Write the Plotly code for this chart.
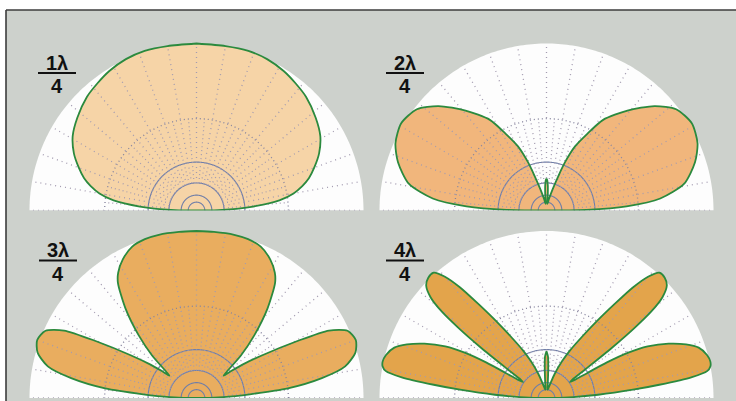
import numpy as np
import plotly.graph_objects as go

# ---- data -----------------------------------------------------------------
# elevation angle above the horizon (deg) and relative radius on the
# log-periodic scale (1 = outer ring); patterns are symmetric left/right
EL_1 = [0, 2, 4, 7, 10, 13, 16, 20, 25, 31, 38, 46, 52, 58, 65, 72, 80, 90]
R_1 = [0, 0.20, 0.34, 0.50, 0.59, 0.65, 0.70, 0.75, 0.81, 0.865, 0.905, 0.945,
       0.965, 0.985, 1.0, 1.005, 1.0, 1.0]

EL_2 = [0, 1, 3, 6, 11, 18, 24, 31, 38, 44, 51, 58, 62, 66, 69, 71, 74, 78,
        82, 84, 85.5, 87, 88.5, 90]
R_2 = [0, 0.24, 0.48, 0.685, 0.84, 0.935, 0.99, 1.015, 0.985, 0.90, 0.77,
       0.64, 0.52, 0.42, 0.31, 0.22, 0.13, 0.07, 0.04, 0.05, 0.10, 0.15,
       0.18, 0.19]

EL_3 = [0, 2, 4, 6, 9, 12, 16, 20, 24, 27, 29.5, 33, 36, 38, 39.5, 41, 43.8,
        47.3, 51.6, 55.7, 58, 62, 67, 72, 77, 84, 90]
R_3 = [0, 0.16, 0.32, 0.55, 0.76, 0.91, 0.99, 1.015, 0.99, 0.89, 0.69, 0.47,
       0.34, 0.26, 0.21, 0.24, 0.37, 0.51, 0.685, 0.835, 0.885, 0.94, 0.985,
       1.0, 1.003, 1.0, 1.0]

EL_4 = [0, 2, 3.6, 5.5, 6.7, 8.2, 9.5, 11, 12.6, 15, 18.3, 21, 24, 27, 29,
        30.5, 31.5, 32.5, 34, 35.5, 36.5, 37.5, 38.5, 39.5, 41, 43, 45.5, 48,
        50, 52, 54, 57, 60, 63.6, 67, 71.4, 75, 79, 83, 85, 86.5, 88, 90]
R_4 = [0, 0.16, 0.31, 0.52, 0.68, 0.88, 0.975, 1.0, 1.005, 0.995, 0.96,
       0.895, 0.80, 0.68, 0.56, 0.42, 0.29, 0.20, 0.17, 0.19, 0.29, 0.49, 0.67,
       0.81, 0.92, 0.985, 1.01, 1.01, 0.95, 0.84, 0.70, 0.54, 0.42, 0.32,
       0.24, 0.15, 0.09, 0.06, 0.05, 0.09, 0.17, 0.25, 0.28]

PATTERNS = [(EL_1, R_1), (EL_2, R_2), (EL_3, R_3), (EL_4, R_4)]
LABEL_NUM = ["1λ", "2λ", "3λ", "4λ"]
LABEL_DEN = "4"

# grid of the log-periodic scale: -10, -20, -30, -40, -50 dB rings
RING_DOTTED = [0.55]
RING_SOLID = [0.29, 0.165, 0.092, 0.05]
SPOKES_MAJOR = list(range(0, 181, 10))
SPOKES_MINOR = list(range(5, 180, 10))

# ---- styling -------------------------------------------------------------
FILL_COLORS = ["#f6d4a7", "#f1b67c", "#e9ad5f", "#e3a44b"]
OUTLINE = "#2b8a3e"
BG_GRAY = "#cdd1cc"
W, H = 736, 401
R0 = 167.0          # px for r = 1
RMAX = 1.06
CENTERS = [(196.5, 210.5), (546.5, 210.5), (196.5, 398.0), (546.5, 398.0)]
LABEL_X = [57, 405, 58, 405]
FONT = "Liberation Sans, Arial, sans-serif"
LABEL_SIZE = 20


def px(x):
    return x / W


def py(y):
    return 1 - y / H


fig = go.Figure()
layout_polars = {}
shapes = []
annotations = []

arc = np.linspace(0, 180, 181)


def rings(levels):
    r_, t_ = [], []
    for lv in levels:
        r_ += [lv] * len(arc) + [None]
        t_ += list(arc) + [None]
    return r_, t_


for i, ((el, rr), (cx, base)) in enumerate(zip(PATTERNS, CENTERS)):
    name = "polar" if i == 0 else f"polar{i + 1}"
    sub = name
    rpx = R0 * RMAX
    layout_polars[name] = dict(
        domain=dict(x=[px(cx - rpx), px(cx + rpx)], y=[py(base), py(base - rpx)]),
        sector=[0, 180],
        bgcolor="rgba(0,0,0,0)",
        hole=0,
        radialaxis=dict(visible=False, range=[0, RMAX], showgrid=False),
        angularaxis=dict(visible=False, showgrid=False, rotation=0,
                         direction="counterclockwise"),
    )

    # white semicircle
    fig.add_trace(go.Scatterpolar(
        r=[0] + [1.0] * len(arc) + [0], theta=[0] + list(arc) + [180],
        mode="lines", fill="toself", fillcolor="#fdfdfd",
        line=dict(width=0, color="#fdfdfd"), subplot=sub,
        hoverinfo="skip", showlegend=False))

    theta = list(el) + [180 - e for e in reversed(el)]
    rad = list(rr) + list(reversed(rr))

    # pattern fill
    fig.add_trace(go.Scatterpolar(
        r=rad, theta=theta, mode="lines", fill="toself",
        fillcolor=FILL_COLORS[i],
        line=dict(width=0, color=FILL_COLORS[i], shape="spline", smoothing=0.7),
        subplot=sub, hoverinfo="skip", showlegend=False))

    # grid: rings
    r_, t_ = rings(RING_DOTTED)
    fig.add_trace(go.Scatterpolar(
        r=r_, theta=t_, mode="lines",
        line=dict(width=1.3, color="#85849e", dash="1px,3px"),
        subplot=sub, hoverinfo="skip", showlegend=False))
    r_, t_ = rings(RING_SOLID)
    fig.add_trace(go.Scatterpolar(
        r=r_, theta=t_, mode="lines",
        line=dict(width=1.1, color="#6f7ea8"),
        subplot=sub, hoverinfo="skip", showlegend=False))

    # grid: spokes
    r_, t_ = [], []
    for a in SPOKES_MAJOR:
        r_ += [RING_SOLID[1], 1.0, None]
        t_ += [a, a, None]
    fig.add_trace(go.Scatterpolar(
        r=r_, theta=t_, mode="lines",
        line=dict(width=1.3, color="#a39bb0", dash="1px,4px"),
        subplot=sub, hoverinfo="skip", showlegend=False))
    r_, t_ = [], []
    for a in SPOKES_MINOR:
        r_ += [RING_SOLID[1], RING_DOTTED[0], None]
        t_ += [a, a, None]
    fig.add_trace(go.Scatterpolar(
        r=r_, theta=t_, mode="lines",
        line=dict(width=1.2, color="#a39bb0", dash="1px,3px"),
        subplot=sub, hoverinfo="skip", showlegend=False))

    # pattern outline
    fig.add_trace(go.Scatterpolar(
        r=rad, theta=theta, mode="lines",
        line=dict(width=1.8, color=OUTLINE, shape="spline", smoothing=0.7),
        subplot=sub, hoverinfo="skip", showlegend=False))

    # fraction label (numerator, bar, denominator)
    lx = LABEL_X[i]
    ly = base - 137.5
    annotations.append(dict(
        x=px(lx), y=py(ly - 10.5), xref="paper", yref="paper",
        text=f"<b>{LABEL_NUM[i]}</b>", showarrow=False,
        font=dict(family=FONT, size=LABEL_SIZE, color="#111"),
        xanchor="center", yanchor="middle", borderpad=0))
    annotations.append(dict(
        x=px(lx), y=py(ly + 13), xref="paper", yref="paper",
        text=f"<b>{LABEL_DEN}</b>", showarrow=False,
        font=dict(family=FONT, size=LABEL_SIZE, color="#111"),
        xanchor="center", yanchor="middle", borderpad=0))
    shapes.append(dict(type="line", xref="paper", yref="paper",
                       x0=px(lx - 19), x1=px(lx + 19), y0=py(ly), y1=py(ly),
                       line=dict(color="#111", width=2.2)))

# frame: white margin at top/left and dark border lines
shapes += [
    dict(type="rect", xref="paper", yref="paper", x0=0, x1=1, y0=py(10), y1=1,
         fillcolor="white", line=dict(width=0), layer="below"),
    dict(type="rect", xref="paper", yref="paper", x0=0, x1=px(6), y0=0, y1=1,
         fillcolor="white", line=dict(width=0), layer="below"),
    dict(type="line", xref="paper", yref="paper", x0=px(6), x1=1,
         y0=py(10), y1=py(10), line=dict(color="#3c3c3c", width=1.6)),
    dict(type="line", xref="paper", yref="paper", x0=px(6), x1=px(6),
         y0=0, y1=py(10), line=dict(color="#3c3c3c", width=1.6)),
]

fig.update_layout(
    width=W, height=H,
    margin=dict(l=0, r=0, t=0, b=0),
    paper_bgcolor=BG_GRAY, plot_bgcolor=BG_GRAY,
    showlegend=False,
    shapes=shapes, annotations=annotations,
    **layout_polars,
)

fig.write_html("out.html",
               config={"displayModeBar": False, "staticPlot": True},
               post_script="document.body.style.margin='0px';"
                           "document.body.style.overflow='hidden';")
